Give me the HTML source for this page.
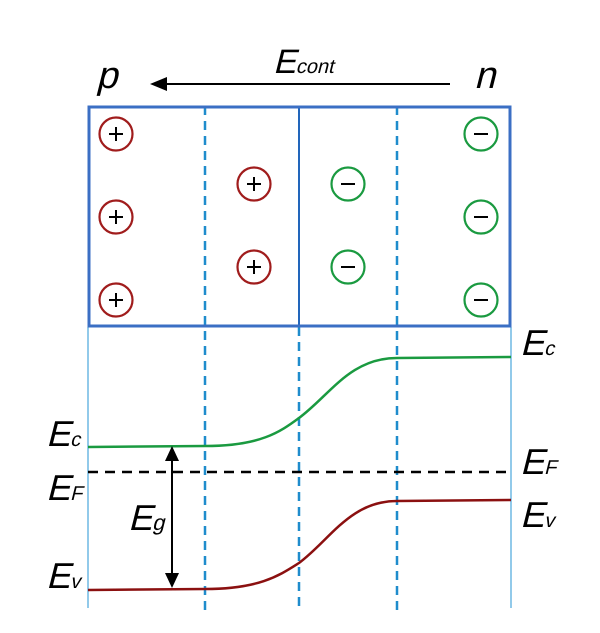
<!DOCTYPE html>
<html><head><style>body{margin:0;background:#fff}svg{display:block}</style></head><body>
<svg width="600" height="633" xmlns="http://www.w3.org/2000/svg" font-family="Liberation Sans, sans-serif">
<rect width="600" height="633" fill="#fff"/>
<g transform="translate(96,88) skewX(-14)"><text font-size="38">p</text></g>
<g transform="translate(474,88) skewX(-14)"><text font-size="38">n</text></g>
<g transform="translate(273,73) skewX(-14)"><text font-size="34">E<tspan font-size="20">cont</tspan></text></g>
<line x1="450" y1="84" x2="165" y2="84" stroke="#000" stroke-width="2"/>
<polygon points="150,84 167,77 167,91" fill="#000"/>
<line x1="88" y1="327" x2="88" y2="608" stroke="#4aa6dc" stroke-width="1.2"/>
<line x1="511" y1="327" x2="511" y2="608" stroke="#4aa6dc" stroke-width="1.2"/>
<line x1="299" y1="106" x2="299" y2="327" stroke="#2266bb" stroke-width="2"/>
<g stroke="#1f8ccc" stroke-width="2.5" stroke-dasharray="9,6">
<line x1="205" y1="106" x2="205" y2="612"/><line x1="397" y1="106" x2="397" y2="612"/>
<line x1="299" y1="327" x2="299" y2="612"/>
</g>
<rect x="89" y="107" width="421" height="219" fill="none" stroke="#3b6fc4" stroke-width="3"/>
<g fill="none" stroke-width="2.2">
<g stroke="#a01c1c"><circle cx="116" cy="134" r="16.5"/><circle cx="116" cy="217" r="16.5"/><circle cx="116" cy="300" r="16.5"/><circle cx="254" cy="184" r="16.5"/><circle cx="254" cy="267" r="16.5"/></g>
<g stroke="#1a9a40"><circle cx="348" cy="184" r="16.5"/><circle cx="348" cy="267" r="16.5"/><circle cx="481" cy="134" r="16.5"/><circle cx="481" cy="217" r="16.5"/><circle cx="481" cy="300" r="16.5"/></g>
</g>
<g stroke="#000" stroke-width="2">
<path d="M109 134h14M116 127v14M109 217h14M116 210v14M109 300h14M116 293v14M247 184h14M254 177v14M247 267h14M254 260v14"/>
<path d="M341 184h14M341 267h14M474 134h14M474 217h14M474 300h14"/>
</g>
<path d="M88 447 L205 446 C260 446 280 432 299 418 C330 395 350 358 397 358 L511 357" fill="none" stroke="#1a9a40" stroke-width="2.5"/>
<path d="M88 590 L205 589 C260 589 280 575 299 563 C330 540 350 501 397 501 L511 500" fill="none" stroke="#8b1010" stroke-width="2.5"/>
<line x1="88" y1="472" x2="511" y2="472" stroke="#000" stroke-width="2.5" stroke-dasharray="10,7"/>
<line x1="172" y1="458" x2="172" y2="576" stroke="#000" stroke-width="2"/>
<polygon points="172,446 165,461 179,461" fill="#000"/>
<polygon points="172,588 165,573 179,573" fill="#000"/>
<g font-size="36">
<g transform="translate(46,446) skewX(-14)"><text>E<tspan font-size="20">c</tspan></text></g>
<g transform="translate(46,500) skewX(-14)"><text>E<tspan font-size="20">F</tspan></text></g>
<g transform="translate(46,588) skewX(-14)"><text>E<tspan font-size="20">v</tspan></text></g>
<g transform="translate(128,530) skewX(-14)"><text>E<tspan font-size="22">g</tspan></text></g>
<g transform="translate(520,355) skewX(-14)"><text>E<tspan font-size="20">c</tspan></text></g>
<g transform="translate(520,474) skewX(-14)"><text>E<tspan font-size="20">F</tspan></text></g>
<g transform="translate(520,527) skewX(-14)"><text>E<tspan font-size="20">v</tspan></text></g>
</g>
</svg>
</body></html>
